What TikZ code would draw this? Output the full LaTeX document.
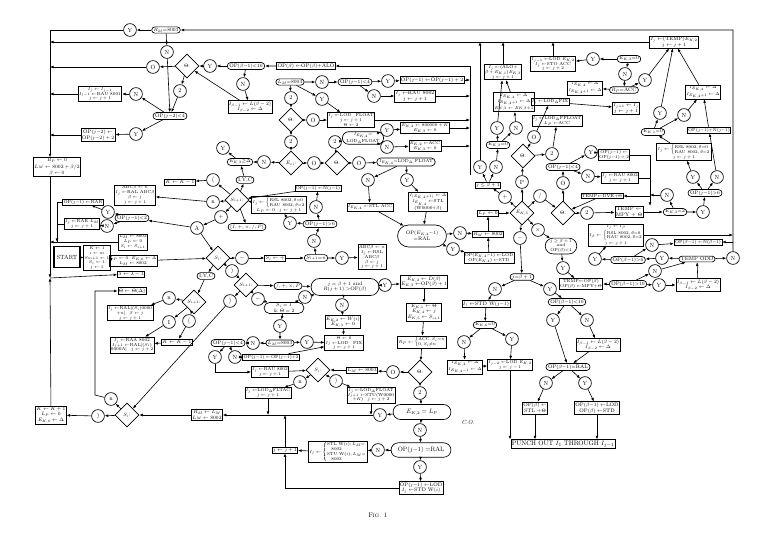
\documentclass[tikz,border=0pt]{standalone}
\usepackage{amsmath,amssymb}
\usetikzlibrary{shapes.geometric,shapes.misc,arrows.meta,positioning}

\begin{document}
\begin{tikzpicture}[x=0.05cm,y=-0.05cm,
	font=\fontsize{7.3}{8}\selectfont,
	>={Latex[length=5pt,width=4pt]},
	blk/.style={rectangle, draw, line width=0.95pt, inner sep=1.3pt, align=center},
	ov/.style={rounded rectangle, draw, line width=0.95pt, inner sep=1.5pt, align=center},
	dm/.style={diamond, draw, line width=0.95pt, inner sep=0pt, minimum size=1.2cm, font=\fontsize{7.5}{8}\selectfont},
	cc/.style={circle, draw, line width=0.95pt, inner sep=0pt, minimum size=0.64cm, font=\fontsize{8.5}{9}\selectfont},
	sm/.style={font=\fontsize{6.2}{6.9}\selectfont},
	ar/.style={->, line width=0.85pt},
]
\useasboundingbox (0,0) rectangle (773,532);
% bus points
\coordinate (lt) at (50,30);
\coordinate (lj) at (50,278);
\coordinate (tr) at (733,30);
\coordinate (top2) at (50,42);
\coordinate (bus) at (470,66);
\coordinate (busb) at (470,175);
\coordinate (v650) at (650,150);
\coordinate (j57) at (57,242);
\coordinate (v95) at (95,395);

% top left
\node[cc] (y1) at (130,30) {Y};
\node[ov] (rm1) at (166,30) {$R_M{=}8003$};
\node[cc] (n1) at (167,52) {N};
\node[dm] (th1) at (187,66) {$\Theta$:};
\node[cc] (o1) at (153,67) {O};
\node[cc] (z1) at (180,91) {2};
\node[ov] (opj2) at (170,116) {OP$(j{-}2){<}4$};
\node[cc] (n2) at (136,94) {N};
\node[blk,sm] (b1) at (100,94) {$I_j\gets I_{j-1}$\\$I_{j-1}\gets$RAU 8001\\$j\gets j+1$};
\node[cc] (y2) at (136,134) {Y};
\node[blk] (b2) at (98,135) {OP$(j{-}2)\gets$\\OP$(j{-}2)+2$};
\node[blk] (bp) at (57,167) {$B_P\gets 0$\\[1pt]$L_M\gets 8002+\beta/2$\\[1pt]$\beta\gets 0$};

% top middle
\node[cc] (y3) at (210,66) {Y};
\node[ov] (c1) at (246,66) {OP$(\beta{-}1){<}10$};
\node[blk] (b3) at (306,66) {OP$(\beta)\gets$OP$(\beta)+$ALO};
\node[cc] (n3) at (243,84) {N};
\node[blk] (b4) at (250,107) {$I_{\beta-1}\gets L(\beta-2)$\\$I_{\beta-2}\gets\Delta$};
\node[ov] (c2) at (290,82) {$L_M{=}8003$};
\node[cc] (n4) at (322,82) {N};
\node[ov] (c3) at (355,82) {OP$(j{-}1){<}4$};
\node[cc] (y4) at (388,81) {Y};
\node[blk] (b5) at (432,80) {OP$(j{-}1)\gets$OP$(j{-}1)+2$};
\node[cc] (n5) at (374,96) {N};
\node[blk] (b6) at (415,96) {$I_j\gets$RAU 8002\\$j\gets j+1$};
\node[cc] (y5) at (322,99) {Y};
\node[cc] (z2) at (291,98) {2};
\node[dm] (th2) at (291,120) {$\Theta$:};
\node[cc] (o2) at (313,120) {O};
\node[blk,sm] (b7) at (351,120) {$I_j\gets$LOD\quad FLOAT\\$j\gets j+1$\\$\Theta\gets 2$};
\node[cc] (z3) at (291,142) {2};
\node[dm] (e1) at (291,163) {$E_{ci}$:};
\node[cc] (n6) at (264,162) {N};
\node[ov] (c4) at (240,162) {$E_{K,3}{\geq}\Delta$};
\node[cc] (y6) at (223,148) {Y};
\node[cc] (o3) at (314,163) {O};
\node[dm] (th3) at (337,163) {$\Theta$:};
\node[cc] (o4) at (359,163) {O};
\node[ov,sm] (c5) at (406,162) {$I_{E_{K,4}}{=}$LOD$_\Delta$ FLOAT};
\node[cc] (z4) at (335,142) {2};
\node[ov,sm] (c6) at (363,138) {$I_{E_{K,4}}{=}$\\LOD$_\Delta$FLOAT};
\node[cc] (y7) at (387,130) {Y};
\node[blk,sm] (b8) at (425,128) {$E_{K,2}\gets 800000+K$\\$E_{K,3}\gets 0$};
\node[cc] (n7) at (387,147) {N};
\node[blk,sm] (b9) at (425,146) {$E_{K,2}\gets$ACC\\$E_{K,3}\gets 0$};
\node[cc] (n8) at (368,180) {N};
\node[cc] (y8) at (407,180) {Y};
\node[blk,sm] (b10) at (370,207) {$I_{E_{K,4}}\gets$STL ACC};
\node[blk,sm] (b11) at (428,202) {$I_{(E_{K,4}+1)}\gets\Delta$\\$I_{E_{K,4}}\gets$STL\\(W0000$+\beta$)};
\node[ov,minimum width=2.55cm,minimum height=1.1cm] (c7) at (422,236) {OP$(E_{K,4}{-}1)$\\$=$RAL};
\node[cc] (n9) at (460,233) {N};
\node[blk] (b12) at (488,234) {$R_M\gets 8002$};
\node[blk] (b13) at (488,213) {$L_P\gets 0$};
\node[cc] (y9) at (453,249) {Y};
\node[blk,sm] (b14) at (489,258) {OP$(E_{K,4}{-}1)\gets$LOD\\OP$(E_{K,4})\gets$STD};
\node[dm] (e2) at (522,213) {$E_{K,5}$};
\node[cc] (cp) at (522,182) {P};
\node[cc] (cplus) at (505,197) {$+$};
\node[cc] (cdiv) at (540,196) {$/$};
\node[cc] (cx) at (538,230) {$\times$};
\node[cc] (cm) at (520,238) {$-$};
\node[blk] (b15) at (488,185) {$j\leq\beta+1$};

% top right
\node[blk,sm] (b16) at (503,72) {$I_j\gets$(ALO$+$\\$\beta+E_{K,1})E_{K,3}$\\$j\gets j+1$};
\node[blk,sm] (b17) at (514,102) {$I_{E_{K,4}}\gets\Delta$\\$I_{E_{K,4}+1}\gets\Delta$\\$E_{K,3}\gets E_{K,3}{+}1$};
\node[cc] (y10) at (497,128) {Y};
\node[cc] (n10) at (516,128) {N};
\node[ov] (c8) at (498,145) {$E_{K,3}{=}0$};
\node[cc] (y11) at (480,167) {Y};
\node[cc] (n11) at (496,167) {N};
\node[dm] (th4) at (523,156) {$\Theta$:};
\node[cc] (o5) at (534,137) {O};
\node[cc] (z5) at (552,154) {2};
\node[blk,sm] (b18) at (553,64) {$I_{j-1}\gets$LOD $E_{K,2}$\\$I_j\gets$STO ACC\\$j\gets j+2$};
\node[blk,sm] (b19) at (550,102) {$I_j\gets$LOD$_\Delta$FIX};
\node[blk,sm] (b20) at (557,121) {$I_j\gets$LOD$_\Delta$FFLOAT\\$L_P\gets$ACC};
\node[ov] (c9) at (563,167) {OP$(j{-}1){<}4$};
\node[cc] (y12) at (593,59) {Y};
\node[ov] (c10) at (629,59) {$E_{K,3}{=}0$};
\node[cc] (n12) at (625,74) {N};
\node[cc] (y13) at (645,80) {Y};
\node[ov] (c11) at (624,90) {$R_P{=}$ACC};
\node[blk,sm] (b21) at (585,88) {$I_{E_{K,4}}\gets\Delta$\\$I_{E_{K,4}+1}\gets\Delta$};
\node[blk] (b22) at (626,108) {$I_{j+1}\gets I_j$\\$j\gets j+1$};
\node[blk] (b23) at (674,42) {$I_j\gets$(TEMP)$E_{K,2}$\\$j\gets j+1$};
\node[ov] (c12) at (653,132) {$E_{K,1}{=}0$};
\node[cc] (y14) at (660,113) {Y};
\node[cc] (n13) at (684,115) {N};
\node[blk,sm] (b24) at (703,92) {$I_{E_{K,4}}\gets\Delta$\\$I_{E_{K,4}+1}\gets\Delta$};
\node[blk,sm] (b25) at (709,130) {OP$(j{-}1){+}$N$(j{-}1)$};
\node[blk,sm] (b26) at (684,152) {$I_j\gets\left\{\begin{array}{@{}l@{}}\mathrm{RSL\ 8002},\theta{=}0\\\mathrm{RAU\ 8002},\theta{=}2\end{array}\right.$\\$j\gets j+1$};
\node[cc] (y15) at (693,177) {Y};
\node[cc] (n14) at (717,177) {N};
\node[ov] (c13) at (705,193) {OP$(j{-}1){>}6$};
\node[cc] (y16) at (591,152) {Y};
\node[blk,sm] (b27) at (614,155) {OP$(j{-}1)\gets$\\OP$(j{-}1)+2$};
\node[cc] (n15) at (588,176) {N};
\node[blk,sm] (b28) at (620,178) {$I_j\gets$RAU 8002\\$j\gets j+1$};
\node[blk,sm] (b29) at (602,196) {TEMP$\gets$DVR$+\Theta$};
\node[dm] (th5) at (563,213) {$\Theta$:};
\node[cc] (o6) at (563,183) {O};
\node[cc] (z6) at (587,213) {2};
\node[blk] (b30) at (629,212) {TEMP $\gets$\\MPY $+\ \Theta$};
\node[ov] (c14) at (675,212) {$E_{K,3}{=}2$};
\node[cc] (y17) at (703,212) {Y};
\node[cc] (n16) at (667,195) {N};
\node[blk,sm] (b31) at (616,235) {$I_j\gets I_\beta$\\$I_\beta\gets\left\{\begin{array}{@{}l@{}}\mathrm{RSL\ 8002},\theta{=}0\\\mathrm{RAU\ 8002},\theta{=}2\end{array}\right.$\\$j\gets j+1$};
\node[cc] (n17) at (652,245) {N};
\node[blk,sm] (b32) at (698,242) {OP$(\beta{-}1)\gets$N$(\beta{-}1)$};
\node[cc] (y18) at (595,259) {Y};
\node[ov] (c15) at (628,260) {OP$(\beta{-}1){>}6$};
\node[cc] (y19) at (662,258) {Y};
\node[ov] (c16) at (697,259) {TEMP ODD};
\node[cc] (n18) at (733,258) {N};
\node[cc] (n19) at (655,271) {N};
\node[cc] (y20) at (659,285) {Y};
\node[ov] (c17) at (628,284) {OP$(\beta{-}1){>}10$};
\node[blk,sm] (b33) at (581,284) {TEMP$\gets$OP$(\beta)$\\OP$(\beta)\gets$MPY$+\Theta$};
\node[blk] (b34) at (698,285) {$I_{\beta-1}\gets L(\beta-2)$\\$I_{\beta-2}\gets\Delta$};
\node[ov,sm] (c18) at (561,246) {$j\geq\beta+1$\\and\\OP$(\beta){<}4$};
\node[cc] (y21) at (563,268) {Y};

% lower right
\node[ov] (c19) at (522,277) {$j{=}\beta+1$};
\node[cc] (n20) at (495,289) {N};
\node[cc] (y22) at (550,289) {Y};
\node[blk] (b35) at (486,304) {$I_j\gets$STD W$(j{-}1)$};
\node[ov] (c20) at (485,325) {$E_{K,6}{=}0$};
\node[cc] (n21) at (464,342) {N};
\node[cc] (y23) at (512,339) {Y};
\node[blk,sm] (b36) at (465,367) {$I_{E_{K,4}}\gets\Delta$\\$I_{E_{K,4}-1}\gets\Delta$};
\node[blk,sm] (b37) at (510,365) {$I_{j-2}\gets$LOD $E_{K,2}$\\$j\gets j-1$};
\node[ov] (c21) at (567,302) {OP$(\beta{-}1){<}10$};
\node[cc] (y24) at (553,320) {Y};
\node[cc] (n22) at (587,320) {N};
\node[blk] (b38) at (598,345) {$I_{\beta-1}\gets L(\beta-2)$\\$I_{\beta-2}\gets\Delta$};
\node[ov] (c22) at (568,367) {OP$(\beta{-}1){=}$RAL};
\node[cc] (n23) at (546,383) {N};
\node[cc] (y25) at (585,383) {Y};
\node[blk] (b39) at (535,408) {OP$(\beta)\gets$\\STL $+\Theta$};
\node[blk] (b40) at (597,408) {OP$(\beta{-}1)\gets$LOD\\OP$(\beta)\gets$STD};
\node[blk,font=\fontsize{9.5}{10}\selectfont] (punch) at (563,444) {PUNCH OUT $I_1$ THROUGH $I_{j-1}$};

% centre
\node[blk] (b41) at (424,282) {$E_{K,2}\gets D(\beta)$\\$E_{K,3}\gets$OP$(\beta)+1$};
\node[cc] (y26) at (385,285) {Y};
\node[blk] (b42) at (424,312) {$E_{K,1}\gets\Theta$\\$E_{K,4}\gets j$\\$E_{K,5}\gets S_{i+1}$};
\node[blk,sm] (b43) at (422,342) {$R_P\gets\left\{\begin{array}{@{}l@{}}\mathrm{ACC},S_i{=}n\\0,S_i{\neq}n\end{array}\right.$};
\node[dm] (th6) at (420,372) {$\Theta$:};
\node[cc] (o7) at (393,372) {O};
\node[cc] (z7) at (420,393) {2};
\node[ov,minimum width=3cm,minimum height=0.75cm,font=\fontsize{9}{10}\selectfont] (c23) at (422,412) {$E_{K,2}=L_P$};
\node[cc] (n24) at (420,430) {N};
\node[ov,minimum width=3.1cm,minimum height=0.72cm,font=\fontsize{9}{10}\selectfont] (c24) at (421,450) {OP$(j{-}1)=$RAL};
\node[cc] (y27) at (420,467) {Y};
\node[blk] (b44) at (421,488) {OP$(j{-}1)\gets$LOD\\$I_j\gets$STD W$(i)$};
\node (co) at (468,422) {\fontsize{8.5}{9}\selectfont\itshape C.O.};
\node (fig) at (378,515) {\fontsize{9.5}{10}\selectfont F\textsc{ig}. 1};

\node[blk,sm] (b45) at (372,257) {ABC$\beta\gets n$\\$I_j\gets$RSL\\ABC$\beta$\\$\beta\gets j$\\$j\gets j+1$};
\node[cc] (y28) at (342,258) {Y};
\node[ov] (c25) at (316,258) {$S_{i+1}{=}n$};
\node[blk] (b46) at (275,258) {$S_i\gets +$};
\node[cc] (cm2) at (242,258) {$-$};
\node[dm] (e3) at (218,258) {$S_i$:};
\node[cc] (ca) at (197,228) {A};
\node[cc] (n25) at (314,241) {N};
\node[ov] (c26) at (320,224) {OP$(j{-}1){>}6$};
\node[cc] (y29) at (290,223) {Y};
\node[cc] (n26) at (316,207) {N};
\node[blk,sm] (b47) at (318,188) {OP$(j{-}1)\gets$N$(j{-}1)$};
\node[blk,sm] (b48) at (279,205) {$I_j\gets\left\{\begin{array}{@{}l@{}}\mathrm{RSL\ 8002},\theta{=}0\\\mathrm{RAU\ 8002},\theta{=}2\end{array}\right.$\\$L_P\gets 0\quad j\gets j+1$};
\node[dm] (e4) at (237,200) {$S_{i+1}$:};
\node[cc] (cn1) at (213,202) {n};
\node[cc] (cpl) at (221,217) {$+$};
\node[ov] (c27) at (247,227) {$(I,+,\times,/,P)$};
\node[cc] (cpar) at (213,180) {(};
\node[ov] (c28) at (245,180) {I,Y,C};
\node[ov] (c29) at (206,276) {I,Y,C};
\node[cc] (cpar2) at (232,271) {)};
\node[dm] (e5) at (246,285) {$S_{i+1}$:};
\node[cc] (cm3) at (258,299) {$-$};
\node[ov] (c30) at (288,286) {$/,+,\times,P$};
\node[ov,minimum width=3.5cm,minimum height=0.85cm] (c31) at (345,287) {$j=\beta+1$ and\\$R(j+1)>$OP$(\beta)$};
\node[cc] (n27) at (342,305) {N};
\node[cc] (n32) at (305,297) {N};
\node[blk] (b49) at (343,322) {$E_{K,2}\gets W(i)$\\$E_{K,3}\gets 0$};
\node[ov,minimum width=2.1cm] (c32) at (284,308) {$S_i=I$\\$\&\ \Theta=2$};
\node[cc] (cpar3) at (230,301) {)};
\node[cc] (y30) at (280,326) {Y};
\node[ov] (c33) at (228,343) {OP$(j{-}1){<}4$};
\node[cc] (n28) at (253,343) {N};
\node[ov] (c34) at (280,343) {$L_M{=}8003$};
\node[cc] (y31) at (307,342) {Y};
\node[blk,sm] (b50) at (344,343) {$\Theta\gets 0$\\$I_j\gets$LOD\quad FIX\\$j\gets j+1$};
\node[cc] (y32) at (215,357) {Y};
\node[cc] (n29) at (235,357) {N};
\node[blk,sm] (b51) at (271,357) {OP$(j{-}1)\gets$OP$(j{-}1){+}2$};
\node[blk,sm] (b52) at (270,372) {$I_j\gets$RAU 8002\\$j\gets j+1$};
\node[dm] (e6) at (318,370) {$S_i$:};
\node[cc] (cn2) at (300,382) {n};
\node[cc] (cpar4) at (336,381) {)};
\node[blk] (b53) at (362,370) {$L_M\gets 8003$};
\node[blk,sm] (b54) at (268,393) {$I_j\gets$LOD$_\Delta$FLTAC\\$j\gets j+1$};
\node[blk,sm] (b55) at (371,395) {$I_j\gets$LOD$_\Delta$FLOAT\\$I_{j+1}\gets$STU(W0000\\$+K)\quad j\gets j+2$};
\node[cc] (y33) at (380,415) {Y};
\node[blk] (b56) at (207,415) {$R_M\gets L_M$\\$L_M\gets 8002$};
\node[dm] (e7) at (127,415) {$S_i$:};
\node[cc] (cpar5) at (98,416) {)};
\node[cc] (cn3) at (111,399) {n};
\node[blk] (b57) at (51,415) {$K\gets K+1$\\$L_P\gets 0$\\$E_{K,6}\gets\Delta$};
\node[blk] (b58) at (285,450) {$j\gets j+1$};
\node[blk,sm] (b59) at (338,452) {$I_j\gets\left\{\begin{array}{@{}l@{}}\mathrm{STL\ W}(i);L_M{=}\\\quad 8002\\\mathrm{STU\ W}(i);L_M{=}\\\quad 8003\end{array}\right.$};
\node[cc] (n30) at (378,450) {N};

% left
\node[blk,sm] (b60) at (135,195) {ABC$\beta\gets n$\\$I_j\gets$RAL ABC$\beta$\\$\beta\gets j$\\$j\gets j+1$};
\node[blk] (b61) at (180,182) {$K\gets K-1$};
\node[blk,sm] (b62) at (83,202) {OP$(j{-}1)\gets$RAR};
\node[cc] (y34) at (108,212) {Y};
\node[blk,sm] (b63) at (82,224) {$I_j\gets$RAR $L_M$\\$j\gets j+1$};
\node[cc] (n31) at (107,226) {N};
\node[ov] (c35) at (132,218) {OP$(j{-}1){<}2$};
\node[blk,sm] (b64) at (133,242) {$L_M\gets 8002$\\$L_P\gets 0$\\$S_i\gets S_{i+1}$};
\node[blk,line width=2.4pt,minimum width=1.3cm,minimum height=1.05cm,font=\fontsize{8.5}{9}\selectfont] (start) at (67,257) {START};
\node[blk,sm] (b65) at (97,258) {$K\gets 1$\\$i\gets m$\\$S_{m+1}\gets 1$\\$S_i\gets 1$\\$j\gets 1$};
\node[blk,sm] (b66) at (133,261) {$L_P\gets 0\ \ E_{K,6}\gets\Delta$\\$L_M\gets 8002$};
\node[blk] (b67) at (131,274) {$\lambda\gets\lambda-1$};
\node[blk] (b68) at (132,291) {$\Theta\gets\Theta(\Delta)$};
\node[blk,sm] (b69) at (130,313) {$I_j\gets$RAL$[(S_i)0000$\\$+n]\quad\beta\gets j$\\$j\gets j+1$};
\node[cc] (cn4) at (169,298) {n};
\node[cc] (cI) at (169,322) {I};
\node[cc] (cpar6) at (189,321) {(};
\node[dm] (e8) at (194,302) {$S_{i+1}$:};
\node[blk,sm] (b70) at (132,345) {$I_j\gets$RAA 8002\\$I_{j+1}\gets$RAL$[(S_i)$\\0000A$]$\quad$j\gets j+2$};
\node[blk] (b71) at (177,342) {$K\gets K-1$};

% connectors: outer loops
\draw[ar] (rm1) -- (y1);
\draw[ar] (y1) -- (lt) -- (bp.north -| lt);
\draw[ar] (bp.south -| lt) -- (lj);
\draw[ar] (b57) -- (lj);
\draw[ar] (lj) -- (b67);
\draw[ar] (c16) -- (n18);
\draw[ar] (n18) -- (tr) -- (rm1);
\draw[ar] (b23) -- (b23.west -| top2);
\draw[ar] (busb) -- (bus) -- (b3);
\foreach \b in {b5,b6,b7,b8,b9} \draw[ar] (\b) -- (\b -| bus);

% top left
\draw[ar] (rm1) -- (n1); \draw[ar] (n1) -- (opj2);
\draw[ar] (th1) -- (o1); \draw[ar] (o1) -- (o1 -| lt);
\draw[ar] (th1) -- (z1); \draw[ar] (z1) -- (opj2);
\draw[ar] (opj2) -- (n2); \draw[ar] (n2) -- (b1); \draw[ar] (b1) -- (b1.west -| lt);
\draw[ar] (opj2) -- (y2); \draw[ar] (y2) -- (b2); \draw[ar] (b2) -- (b2.west -| lt);
\draw[ar] (b3) -- (c1); \draw[ar] (c1) -- (y3); \draw[ar] (y3) -- (th1);
\draw[ar] (c1) -- (n3); \draw[ar] (n3) -- (b4); \draw[ar] (b4) -- (th1);

% top middle
\draw[ar] (c2) -- (n4); \draw[ar] (n4) -- (c3);
\draw[ar] (c3) -- (y4); \draw[ar] (y4) -- (b5);
\draw[ar] (c3) -- (n5); \draw[ar] (n5) -- (b6);
\draw[ar] (c2) -- (y5); \draw[ar] (y5) -- (b7);
\draw[ar] (c2) -- (z2); \draw[ar] (z2) -- (th2);
\draw[ar] (th2) -- (o2); \draw[ar] (o2) -- (b7);
\draw[ar] (th2) -- (z3); \draw[ar] (z3) -- (e1);
\draw[ar] (e1) -- (n6); \draw[ar] (n6) -- (c4); \draw[ar] (c4) -- (y6);
\draw[ar] (e1) -- (o3); \draw[ar] (o3) -- (th3);
\draw[ar] (th3) -- (o4); \draw[ar] (o4) -- (c5);
\draw[ar] (th3) -- (z4); \draw[ar] (z4) -- (c6);
\draw[ar] (c6) -- (y7); \draw[ar] (y7) -- (b8);
\draw[ar] (c6) -- (n7); \draw[ar] (n7) -- (b9);
\draw[ar] (c5) -- (n8); \draw[ar] (n8) -- (b10);
\draw[ar] (c5) -- (y8); \draw[ar] (y8) -- (b11);
\draw[ar] (b10) -- (c7); \draw[ar] (b11) -- (c7);
\draw[ar] (c7) -- (n9); \draw[ar] (n9) -- (b12);
\draw[ar] (c7) -- (y9); \draw[ar] (y9) -- (b14);
\draw[ar] (b14) -- (b12); \draw[ar] (b12) -- (b13); \draw[ar] (b13) -- (e2);

% E_{K,5}
\draw[ar] (e2) -- (cp); \draw[ar] (cp) -- (th4);
\draw[ar] (e2) -- (cplus); \draw[ar] (cplus) -- (b15);
\draw[ar] (e2) -- (cdiv); \draw[ar] (cdiv) -- (th5);
\draw[ar] (e2) -- (cx); \draw[ar] (cx) -- (c18);
\draw[ar] (e2) -- (cm); \draw[ar] (cm) -- (c19);
\draw[ar] (b15) -- (y11); \draw[ar] (y11) -- (y11 |- top2);
\draw[ar] (b15) -- (n11); \draw[ar] (n11) -- (c8);
\draw[ar] (c8) -- (y10); \draw[ar] (y10) -- (b16);
\draw[ar] (c8) -- (n10); \draw[ar] (n10) -- (b17);
\draw[ar] (b17) -- (b16); \draw[ar] (b16) -- (b16 |- top2);

% top right
\draw[ar] (th4) -- (o5); \draw[ar] (o5) -- (b19);
\draw[ar] (th4) -- (z5); \draw[ar] (z5) -- (b20);
\draw[ar] (b19) -- (b22);
\draw[ar] (c10) -- (y12); \draw[ar] (y12) -- (b18); \draw[ar] (b18) -- (b18 |- top2);
\draw[ar] (c10) -- (n12); \draw[ar] (n12) -- (c11);
\draw[ar] (c11) -- (y13); \draw[ar] (y13) -- (b23);
\draw[ar] (c11) -- (b21);
\draw[ar] (c12) -- (y14); \draw[ar] (y14) -- (b23);
\draw[ar] (c12) -- (n13); \draw[ar] (n13) -- (b24); \draw[ar] (b24) -- (b23);
\draw[ar] (b25) -- (b24); \draw[ar] (n14) -- (b25);
\draw[ar] (c13) -- (n14); \draw[ar] (c13) -- (y15); \draw[ar] (y15) -- (b26);
\draw[ar] (b26) -- (c12);
\draw[ar] (th5) -- (o6); \draw[ar] (o6) -- (c9);
\draw[ar] (c9) -- (y16); \draw[ar] (y16) -- (b27);
\draw[ar] (c9) -- (n15); \draw[ar] (n15) -- (b28);
\draw[ar] (b27.east) -- (b27.east -| v650) -- (v650 |- b30.north);
\draw[line width=0.85pt] (b28.east) -- (b28.east -| v650);
\draw[ar] (b29 -| v650) -- (b29);
\draw[ar] (b29) -- (th5);
\draw[ar] (th5) -- (z6); \draw[ar] (z6) -- (b30);
\draw[ar] (b30) -- (c14);
\draw[ar] (c14) -- (y17); \draw[ar] (y17) -- (c13);
\draw[ar] (c14) -- (n16); \draw[ar] (n16) -- (n16 -| v650);
\draw[ar] (c15) -- (y18); \draw[ar] (y18) -- (b31);
\draw[ar] (b31.east) -- (b31.east -| tr);
\draw[ar] (c15) -- (n17); \draw[ar] (n17) -- (b32);
\draw[ar] (b32 -| tr) -- (b32);
\draw[ar] (c16) -- (y19); \draw[ar] (y19) -- (c15);
\draw[ar] (c17) -- (n19); \draw[ar] (n19) -- (c16);
\draw[ar] (c17) -- (y20); \draw[ar] (y20) -- (b34); \draw[ar] (b34) -- (c16);
\draw[ar] (c17) -- (b33);
\draw[ar] (c18) -- (y21); \draw[ar] (y21) -- (b33);

% lower right
\draw[ar] (c19) -- (n20); \draw[ar] (n20) -- (b35); \draw[ar] (b35) -- (c20);
\draw[ar] (c20) -- (n21); \draw[ar] (n21) -- (b36); \draw[ar] (b36) -- (b37);
\draw[ar] (c20) -- (y23); \draw[ar] (y23) -- (b37);
\draw[ar] (b37) -- (b37 |- punch.north);
\draw[ar] (c19) -- (y22); \draw[ar] (y22) -- (c21);
\draw[ar] (c21) -- (y24); \draw[ar] (y24) -- (c22);
\draw[ar] (c21) -- (n22); \draw[ar] (n22) -- (b38); \draw[ar] (b38) -- (c22);
\draw[ar] (c22) -- (n23); \draw[ar] (n23) -- (b39); \draw[ar] (b39) -- (b39 |- punch.north);
\draw[ar] (c22) -- (y25); \draw[ar] (y25) -- (b40); \draw[ar] (b40) -- (b40 |- punch.north);

% centre
\draw[ar] (c31) -- (y26); \draw[ar] (y26) -- (b41);
\draw[ar] (b41) -- (b42); \draw[ar] (b42) -- (b43); \draw[ar] (b43) -- (th6);
\draw[ar] (th6) -- (o7); \draw[ar] (o7) -- (b53); \draw[ar] (b53) -- (e6);
\draw[ar] (th6) -- (z7); \draw[ar] (z7) -- (c23);
\draw[ar] (c23) -- (n24); \draw[ar] (n24) -- (c24);
\draw[ar] (c24) -- (y27); \draw[ar] (y27) -- (b44);
\draw[ar] (c23) -- (y33); \draw[ar] (y33) -- (b56);
\draw[ar] (b54) -- (b54 |- y33); \draw[ar] (b55) -- (b55 |- y33);
\draw[ar] (c24) -- (n30); \draw[ar] (n30) -- (b59); \draw[ar] (b59) -- (b58);
\draw[ar] (b58) -- (b58 |- y33);
\draw[ar] (b44.west) -- (b44.west -| b58) -- (b58);
\draw[ar] (b56) -- (e7); \draw[ar] (e7) -- (cpar5); \draw[ar] (cpar5) -- (b57);
\draw[ar] (e7) -- (cn3); \draw[ar] (cn3) -- (v95) -- (v95 |- b68) -- (b68);
\draw[ar] (cpar3) -- (e7);
\draw[ar] (c31) -- (n27); \draw[ar] (n27) -- (b49); \draw[ar] (b49) -- (b50);
\draw[ar] (e5) -- (c30); \draw[ar] (c30) -- (c31);
\draw[ar] (e5) -- (cm3); \draw[ar] (cm3) -- (c32);
\draw[ar] (c32) -- (n32); \draw[ar] (n32) -- (c31);
\draw[ar] (c32) -- (y30); \draw[ar] (y30) -- (c34);
\draw[ar] (c34) -- (n28); \draw[ar] (n28) -- (c33);
\draw[ar] (c34) -- (y31); \draw[ar] (y31) -- (b50);
\draw[ar] (c33) -- (y32); \draw[ar] (y32) |- (b52);
\draw[ar] (c33) -- (n29); \draw[ar] (n29) -- (b51); \draw[ar] (b51) -- (b50);
\draw[ar] (b52) -- (e6);
\draw[ar] (e6) -- (cn2); \draw[ar] (cn2) -- (b54);
\draw[ar] (e6) -- (cpar4); \draw[ar] (cpar4) -- (b55);
\draw[ar] (e5) -- (cpar3);
\draw[ar] (e3) -- (cm2); \draw[ar] (cm2) -- (b46); \draw[ar] (b46) -- (c25);
\draw[ar] (c25) -- (y28); \draw[ar] (y28) -- (b45);
\draw[ar] (c25) -- (n25); \draw[ar] (n25) -- (c26);
\draw[ar] (c26) -- (y29); \draw[ar] (y29) -- (b48);
\draw[ar] (c26) -- (n26); \draw[ar] (n26) -- (b47);
\draw[ar] (b47) -- (e4); \draw[ar] (b48) -- (e4);
\draw[ar] (e3) -- (cpar2); \draw[ar] (cpar2) -- (e5);
\draw[ar] (e3) -- (c29); \draw[ar] (c29) -- (e8);
\draw[ar] (e4) -- (c28); \draw[ar] (c28) -- (c4);
\draw[ar] (e4) -- (cpar); \draw[ar] (cpar) -- (b61);
\draw[ar] (e4) -- (cn1); \draw[ar] (cn1) -- (b60);
\draw[ar] (e4) -- (cpl); \draw[ar] (cpl) -- (ca);
\draw[ar] (e4) -- (c27);
\draw[ar] (ca) -- (e3); \draw[ar] (ca) -- (c35);

% left
\draw[ar] (c35) -- (y34); \draw[ar] (y34) -- (b62);
\draw[ar] (c35) -- (n31); \draw[ar] (n31) -- (b63);
\draw[ar] (b62.west) -| (j57); \draw[line width=0.85pt] (b63.west) -| (j57);
\draw[ar] (b64.west) -- (b64.west -| lt);
\draw[ar] (start) -- (b65); \draw[ar] (b65) -- (b66); \draw[ar] (b66) -- (e3);
\draw[ar] (e8) -- (cn4); \draw[ar] (cn4) -- (b69);
\draw[ar] (e8) -- (cI); \draw[ar] (cI) -- (b70);
\draw[ar] (e8) -- (cpar6); \draw[ar] (cpar6) -- (b71); \draw[ar] (b71) -- (b70);
\end{tikzpicture}
\end{document}
